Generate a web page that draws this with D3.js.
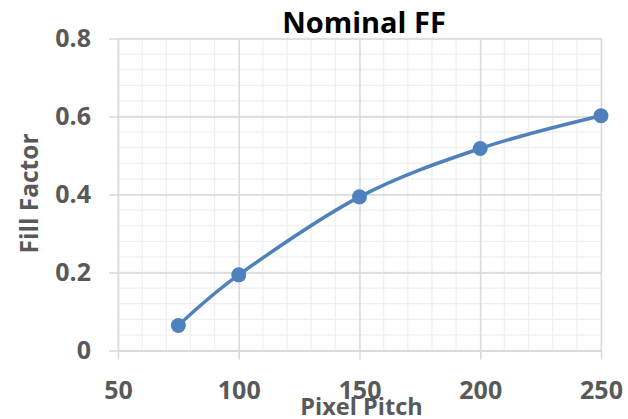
<!DOCTYPE html>
<html>
<head>
<meta charset="utf-8">
<script src="https://cdn.jsdelivr.net/npm/d3@7"></script>
<style>
  body { margin: 0; background: #fff; }
  text { font-family: "Open Sans", sans-serif; font-weight: bold; }
</style>
</head>
<body>
<div id="chart"></div>
<script>
// data
var pitch = [75, 100, 150, 200, 250];
var fillFactor = [0.064, 0.194, 0.394, 0.518, 0.602];
var xTicks = [50, 100, 150, 200, 250];
var yTicks = [0, 0.2, 0.4, 0.6, 0.8];

var W = 628, H = 419;
var margin = { top: 38.5, right: 27, bottom: 68.5, left: 118 },
    width = W - margin.left - margin.right,
    height = H - margin.top - margin.bottom;

var svg = d3.select("#chart")
    .append("svg")
    .attr("width", W)
    .attr("height", H);

var g = svg.append("g")
    .attr("transform", "translate(" + margin.left + "," + margin.top + ")");

var x = d3.scaleLinear().domain([50, 250]).range([0, width]);
var y = d3.scaleLinear().domain([0, 0.8]).range([height, 0]);

// minor grid
var xMinor = d3.range(50, 251, 10);
var yMinor = d3.range(0, 0.81, 0.04);
g.append("g").selectAll("line")
    .data(xMinor)
    .enter().append("line")
    .attr("x1", function (d) { return x(d); })
    .attr("x2", function (d) { return x(d); })
    .attr("y1", 0).attr("y2", height)
    .attr("stroke", "#f0f0f0").attr("stroke-width", 1.3);
g.append("g").selectAll("line")
    .data(yMinor)
    .enter().append("line")
    .attr("y1", function (d) { return y(d); })
    .attr("y2", function (d) { return y(d); })
    .attr("x1", 0).attr("x2", width)
    .attr("stroke", "#f0f0f0").attr("stroke-width", 1.3);

// major grid
g.append("g")
    .call(d3.axisBottom(x).tickValues(xTicks).tickSize(height).tickFormat(""))
    .call(function (s) { s.select(".domain").remove(); })
    .selectAll("line").attr("stroke", "#d9d9d9").attr("stroke-width", 1.3);
g.append("g")
    .attr("transform", "translate(" + width + ",0)")
    .call(d3.axisLeft(y).tickValues(yTicks).tickSize(width).tickFormat(""))
    .call(function (s) { s.select(".domain").remove(); })
    .selectAll("line").attr("stroke", "#d9d9d9").attr("stroke-width", 1.3);

// X axis
var xAxis = g.append("g")
    .attr("transform", "translate(0," + height + ")")
    .call(d3.axisBottom(x).tickValues(xTicks).tickSizeInner(9).tickSizeOuter(0).tickPadding(22));
xAxis.select(".domain").attr("stroke", "#d9d9d9").attr("stroke-width", 1.5);
xAxis.selectAll("line").attr("stroke", "#d9d9d9").attr("stroke-width", 1.5);
xAxis.selectAll("text")
    .attr("fill", "#595959")
    .style("font-size", "25px")
    .style("font-family", "'Open Sans', sans-serif")
    .style("font-weight", "bold");

// Y axis
var yAxis = g.append("g")
    .call(d3.axisLeft(y).tickValues(yTicks).tickSizeInner(9).tickSizeOuter(0).tickPadding(18)
        .tickFormat(function (d) { return d === 0 ? "0" : d3.format(".1f")(d); }));
yAxis.select(".domain").attr("stroke", "#d9d9d9").attr("stroke-width", 1.5);
yAxis.selectAll("line").attr("stroke", "#d9d9d9").attr("stroke-width", 1.5);
yAxis.selectAll("text")
    .attr("fill", "#595959")
    .style("font-size", "25px")
    .style("font-family", "'Open Sans', sans-serif")
    .style("font-weight", "bold");

// the line
var data = pitch.map(function (p, i) { return { p: p, f: fillFactor[i] }; });
g.append("path")
    .datum(data)
    .attr("fill", "none")
    .attr("stroke", "#4f81bd")
    .attr("stroke-width", 3.5)
    .attr("d", d3.line()
        .curve(d3.curveCardinal.tension(0))
        .x(function (d) { return x(d.p); })
        .y(function (d) { return y(d.f); })
    );

g.selectAll("circle")
    .data(data)
    .enter().append("circle")
    .attr("cx", function (d) { return x(d.p); })
    .attr("cy", function (d) { return y(d.f); })
    .attr("r", 7.5)
    .attr("fill", "#4f81bd");

// title and axis labels
svg.append("text")
    .attr("x", 364).attr("y", 33)
    .attr("text-anchor", "middle")
    .attr("fill", "#000")
    .style("font-size", "29px")
    .text("Nominal FF");

svg.append("text")
    .attr("x", 361.5).attr("y", 415)
    .attr("text-anchor", "middle")
    .attr("fill", "#595959")
    .style("font-size", "23.5px")
    .text("Pixel Pitch");

svg.append("text")
    .attr("transform", "translate(38,193.5) rotate(-90)")
    .attr("text-anchor", "middle")
    .attr("fill", "#595959")
    .style("font-size", "24.5px")
    .text("Fill Factor");
</script>
</body>
</html>
